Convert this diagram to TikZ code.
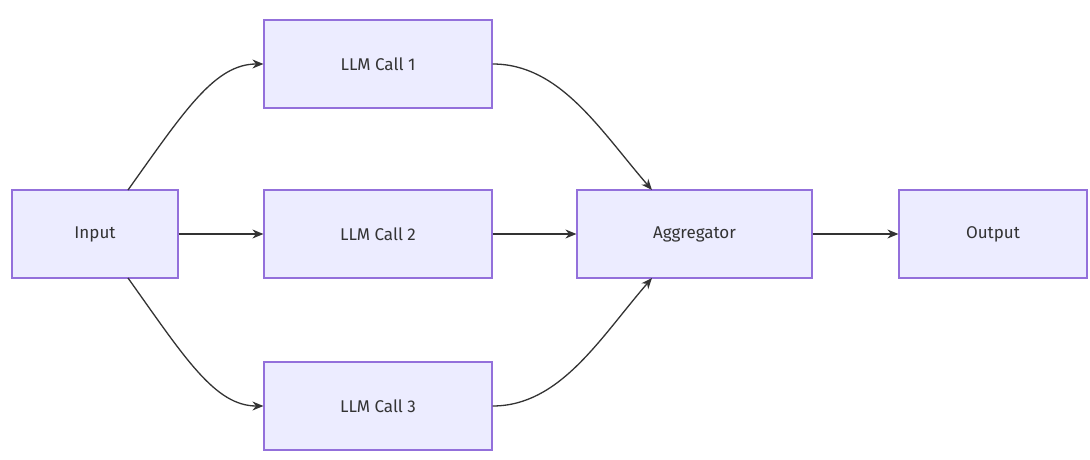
\documentclass[tikz,border=0pt]{standalone}
\usepackage{fontspec}
\setmainfont{Fira Sans}
\usetikzlibrary{arrows.meta}
\definecolor{nfill}{HTML}{ECECFF}
\definecolor{nline}{HTML}{9370DB}
\definecolor{ink}{HTML}{333333}
\begin{document}
\begin{tikzpicture}[x=1pt,y=-1pt,
  box/.style={draw=nline,fill=nfill,line width=1.2pt,minimum height=88pt,inner sep=0pt,font=\fontsize{17}{20}\selectfont,text=ink},
  arr/.style={draw=ink,line width=1.3pt,-{Stealth[length=11pt,width=9pt]}}]
\useasboundingbox (0,0) rectangle (1090,460);
\fill[white] (0,0) rectangle (1090,460);
\node[box,minimum width=166pt] (in) at (95,234) {Input};
\node[box,minimum width=228pt] (l1) at (378,64) {LLM Call 1};
\node[box,minimum width=228pt] (l2) at (378,234) {LLM Call 2};
\node[box,minimum width=228pt] (l3) at (378,406) {LLM Call 3};
\node[box,minimum width=235pt] (ag) at (694.5,234) {Aggregator};
\node[box,minimum width=188pt] (out) at (993,234) {Output};
\coordinate (inT) at (128,190);
\coordinate (inB) at (128,278);
\coordinate (agT) at (652,190);
\coordinate (agB) at (652,278);
\draw[arr] (inT) .. controls (185,110) and (215,64) .. (l1.west);
\draw[arr] (inB) .. controls (185,358) and (215,406) .. (l3.west);
\draw[arr] (in.east) -- (l2.west);
\draw[arr] (l1.east) .. controls (560,64) and (600,130) .. (agT);
\draw[arr] (l3.east) .. controls (560,406) and (600,338) .. (agB);
\draw[arr] (l2.east) -- (ag.west);
\draw[arr] (ag.east) -- (out.west);
\end{tikzpicture}
\end{document}
